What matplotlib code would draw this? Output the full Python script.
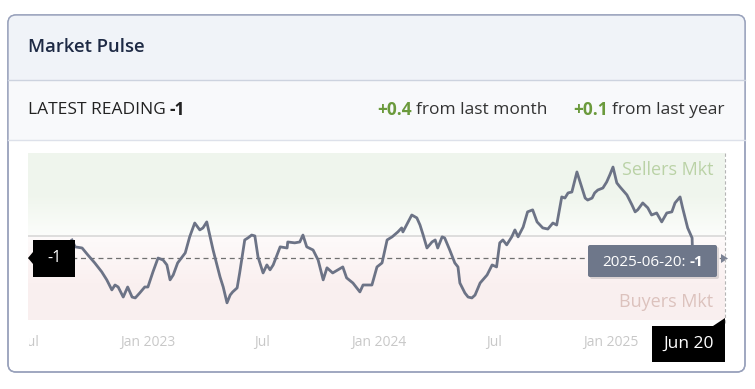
import matplotlib
matplotlib.use("Agg")
import matplotlib.pyplot as plt
import matplotlib.dates as mdates
from matplotlib.patches import FancyBboxPatch, Rectangle, Polygon
from matplotlib.transforms import Bbox
import numpy as np
import pandas as pd

plt.rcParams['font.family'] = ['Open Sans', 'DejaVu Sans']

# Market pulse readings (days after 2022-07-01, value)
day_offsets = [64, 69, 80, 89, 100, 111, 119, 127, 132, 137,
               145, 152, 159, 164, 171, 179, 184, 192, 200, 208,
               214, 219, 224, 231, 243, 250, 258, 266, 271, 277,
               287, 298, 303, 309, 314, 318, 325, 329, 337, 342,
               348, 353, 358, 366, 372, 377, 382,
               393, 404, 405, 416, 424, 429, 435, 445, 453, 461,
               467, 476, 492, 498, 508, 519, 524, 538, 546, 554,
               562, 570, 579, 585,
               587, 601, 609, 614, 619, 625, 633, 638, 642, 649,
               653, 661, 669, 674, 677, 685, 690, 696, 701, 709,
               720, 728, 735, 740, 745, 751, 759, 764, 769, 777,
               784, 792, 799, 808, 816, 824, 830, 838, 843, 848,
               854, 862, 867, 875, 879, 886, 890, 895, 903, 909,
               914, 919, 925,
               930, 941, 949, 954, 958, 966, 974, 980, 988, 996,
               1004, 1012, 1017, 1025, 1029, 1037, 1044, 1045]
readings = [-0.18, -0.49, -0.54, -0.85, -1.21, -1.61, -1.97, -2.42, -2.20, -2.29,
            -2.74, -2.29, -2.74, -2.78, -2.56, -2.29, -2.29, -1.61, -0.99, -1.08,
            -1.30, -1.97, -1.75, -1.21, -0.76, -0.04, 0.58, 0.27, 0.36, 0.63,
            -0.63, -1.84, -2.29, -3.00, -2.65, -2.51, -2.33, -1.66, -0.18, -0.09,
            0.04, 0.00, -0.94, -1.66, -1.30, -1.52, -1.30,
            -0.49, -0.54, -0.27, -0.31, -0.27, 0.04, -0.49, -0.63, -1.08, -1.97,
            -1.43, -1.66, -1.39, -1.88, -2.11, -2.51, -2.20, -2.20, -1.39, -1.21,
            -0.18, -0.04, 0.18, 0.36,
            0.18, 0.94, 0.81, 0.49, 0.04, -0.54, -0.27, -0.18, -0.54, -0.04,
            -0.09, -0.63, -1.21, -1.39, -2.11, -2.56, -2.74, -2.78, -2.65, -2.11,
            -1.75, -1.30, -1.39, -0.31, -0.18, -0.40, -0.04, 0.27, -0.04, 0.40,
            1.08, 1.17, 0.63, 0.36, 0.31, 0.58, 0.49, 1.75, 1.70, 1.93,
            1.97, 2.87, 2.42, 1.70, 1.61, 1.70, 1.93, 2.06, 2.15, 2.42,
            2.74, 3.09, 2.38,
            2.20, 1.84, 1.39, 1.08, 1.17, 1.48, 1.26, 0.94, 1.03, 0.63,
            1.03, 1.08, 1.48, 1.75, 1.26, 0.36, -0.09, -1.00]

tick_dates = ['2022-07-01', '2023-01-01', '2023-07-01', '2024-01-01', '2024-07-01', '2025-01-01']
tick_labels = ['Jul', 'Jan 2023', 'Jul', 'Jan 2024', 'Jul', 'Jan 2025']

latest = -1
latest_date = '2025-06-20'
month_change = '+0.4'
year_change = '+0.1'

W, H = 755, 389
fig = plt.figure(figsize=(W / 100, H / 100), dpi=100)

# background layer in pixel coordinates
bg = fig.add_axes([0, 0, 1, 1], zorder=0)
bg.set_xlim(0, W)
bg.set_ylim(H, 0)
bg.axis('off')

card = FancyBboxPatch((8, 15), 737, 357, boxstyle="round,pad=0,rounding_size=8",
                      facecolor='white', edgecolor='#98a1bb', linewidth=1.0)
bg.add_patch(card)
head = Rectangle((8, 15), 737, 65, facecolor='#f0f3f8', edgecolor='none')
sub = Rectangle((8, 80), 737, 60, facecolor='#f8f9fb', edgecolor='none')
for p in (head, sub):
    bg.add_patch(p)
    p.set_clip_path(card)
bg.plot([8, 745], [80, 80], color='#cdd3df', lw=1)
bg.plot([8, 745], [140, 140], color='#dde1ea', lw=1)
bg.add_patch(FancyBboxPatch((8, 15), 737, 357, boxstyle="round,pad=0,rounding_size=8",
                            facecolor='none', edgecolor='#98a1bb', linewidth=1.0))

bg.text(28, 47, 'Market Pulse', fontsize=13.3, fontweight='semibold',
        color='#1e2a45', va='center', ha='left')

renderer = fig.canvas.get_renderer()


def draw_pieces(ax, x, y, pieces, size, ha='left'):
    texts, gaps = [], []
    for s, w, c, gap in pieces:
        t = ax.text(0, y, s, fontsize=size, fontweight=w, color=c, va='center', ha='left')
        texts.append(t)
        gaps.append(gap)
    widths = [t.get_window_extent(renderer).width for t in texts]
    total = sum(widths) + sum(gaps)
    start = x if ha == 'left' else (x - total if ha == 'right' else x - total / 2)
    for t, wd, g in zip(texts, widths, gaps):
        t.set_x(start)
        start += wd + g


draw_pieces(bg, 28, 110, [('LATEST READING', 'normal', '#222222', 4),
                          (str(latest), 'bold', '#222222', 0)], 12.5)
green = '#6b9a3c'
draw_pieces(bg, 725, 110, [(month_change, 'bold', green, 4),
                           ('from last month', 'normal', '#333333', 26),
                           (year_change, 'bold', green, 4),
                           ('from last year', 'normal', '#333333', 0)], 12.5, ha='right')

# chart axes
x0, x1, y0, y1 = 28, 725, 153, 320
ax = fig.add_axes([x0 / W, 1 - y1 / H, (x1 - x0) / W, (y1 - y0) / H], zorder=1)
ax.patch.set_alpha(0)
start = pd.Timestamp('2022-07-01')
dates = start + pd.to_timedelta(day_offsets, unit='D')
xmin = mdates.date2num(start - pd.Timedelta(days=5.5))
xmax = mdates.date2num(start + pd.Timedelta(days=1096))
ymin, ymax = -3.77, 3.72

# green / red band gradient
n = 300
vals = np.linspace(ymax, ymin, n)
img = np.ones((n, 1, 3))
top = np.array([0.940, 0.963, 0.930])
bot = np.array([0.980, 0.940, 0.940])
for i, v in enumerate(vals):
    if v >= 0:
        f = min(1, v / 1.8)
        img[i, 0] = 1 - (1 - top) * (0.2 + 0.8 * f)
    else:
        f = min(1, -v / 2.2)
        img[i, 0] = 1 - (1 - bot) * (0.3 + 0.7 * f)
ax.imshow(img, extent=[xmin, xmax, ymin, ymax], aspect='auto', zorder=0, interpolation='bilinear')

ax.axhline(0, color='#d8d8d8', lw=1.2, zorder=1)
ax.axhline(latest, color='#707070', lw=0.9, ls=(0, (4, 3)), zorder=2)
ax.plot(dates, readings, color='#6c7386', lw=2.0, zorder=3, solid_joinstyle='round')
ax.set_xlim(xmin, xmax)
ax.set_ylim(ymin, ymax)
ax.axis('off')

ax.text(0.983, 0.9, 'Sellers Mkt', transform=ax.transAxes, ha='right', va='center',
        fontsize=13, color='#bad2a6', zorder=4)
ax.text(0.983, 0.109, 'Buyers Mkt', transform=ax.transAxes, ha='right', va='center',
        fontsize=13, color='#dcc2bd', zorder=4)

# x tick labels
clip = Bbox.from_extents(29, 0, W, H)
for d, lab in zip(tick_dates, tick_labels):
    xd = mdates.date2num(pd.Timestamp(d))
    t = ax.text(xd, -0.135, lab, transform=ax.get_xaxis_transform(), ha='center', va='center',
                fontsize=10, color='#c8c8c8', clip_on=False)
    t.set_clip_box(clip)
    t.set_clip_on(True)

bg.text(44.5, 233, '0', fontsize=8.5, color='#bbbbbb', ha='center', va='center')

# overlay layer
ov = fig.add_axes([0, 0, 1, 1], zorder=2)
ov.set_xlim(0, W)
ov.set_ylim(H, 0)
ov.axis('off')
ov.patch.set_alpha(0)

ov.plot([725, 725], [153, 325], color='#b5b5b5', lw=0.8, ls=(0, (3, 2)))

# left crosshair label
ov.add_patch(Rectangle((33, 240), 42, 37, facecolor='black', edgecolor='none'))
ov.add_patch(Polygon([(33, 252), (28, 258), (33, 264)], closed=True, facecolor='black', edgecolor='none'))
ov.text(55, 258, str(latest), color='white', fontsize=11.5, ha='center', va='center')

# tooltip
ov.add_patch(FancyBboxPatch((590, 247), 129, 32, boxstyle="round,pad=0,rounding_size=2",
                            facecolor='#000000', alpha=0.12, edgecolor='none'))
ov.add_patch(FancyBboxPatch((588, 245), 129, 32, boxstyle="round,pad=0,rounding_size=2",
                            facecolor='#6e778a', edgecolor='none'))
draw_pieces(ov, 652.5, 262, [(latest_date + ':', 'normal', 'white', 4),
                             (str(latest), 'bold', 'white', 0)], 11, ha='center')
ov.add_patch(Polygon([(721, 254), (728, 258.5), (721, 263)], closed=True,
                     facecolor='#7b8294', edgecolor='none'))

# bottom date label
ov.add_patch(Rectangle((652, 326), 73, 36, facecolor='black', edgecolor='none'))
ov.add_patch(Polygon([(713, 326), (725, 318), (725, 326)], closed=True, facecolor='black', edgecolor='none'))
ov.text(688.5, 344, 'Jun 20', color='white', fontsize=12.5, ha='center', va='center')

fig.savefig('out.png', dpi=100)
